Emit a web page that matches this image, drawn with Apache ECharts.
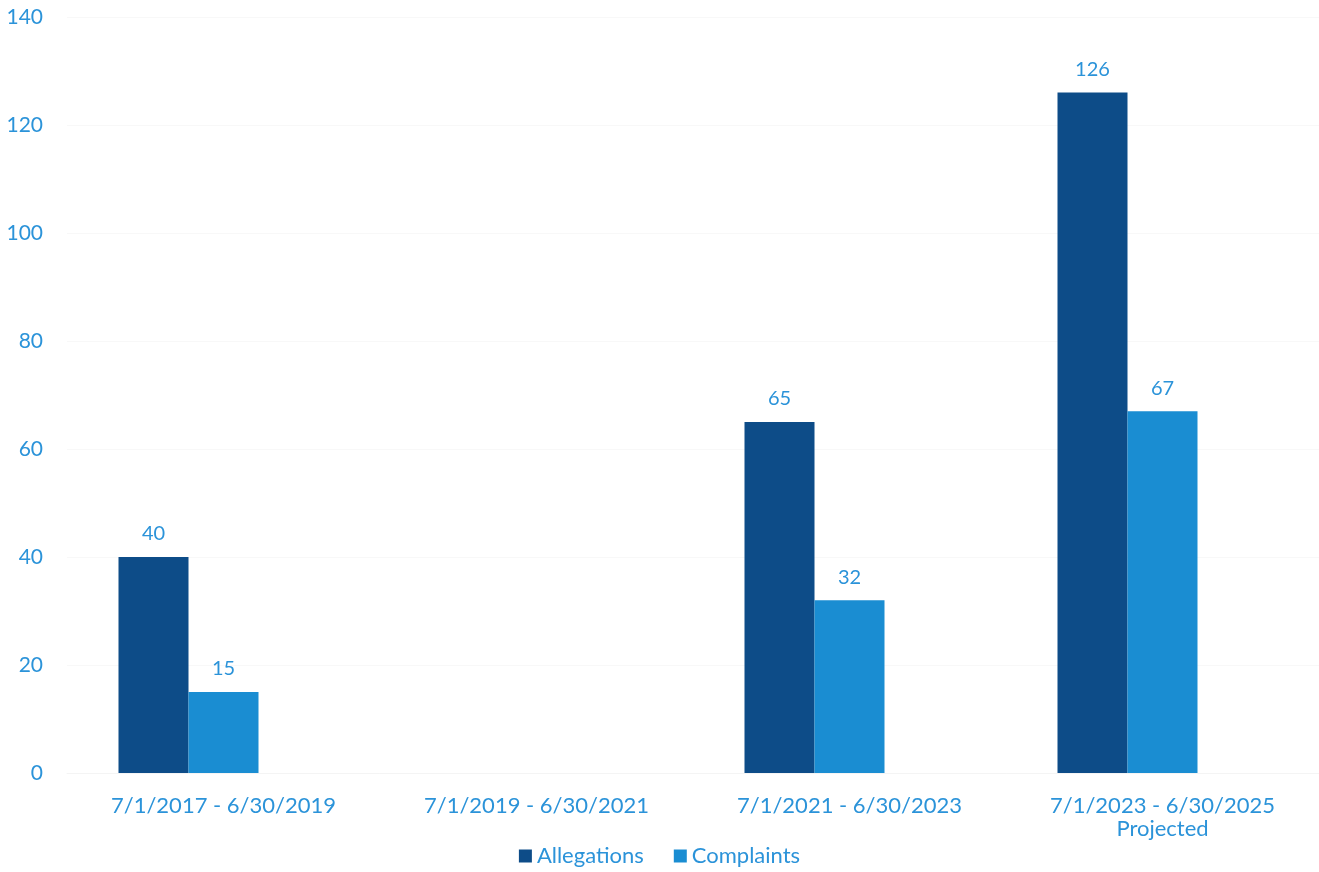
<!DOCTYPE html>
<html>
<head>
<meta charset="utf-8">
<script src="https://cdn.jsdelivr.net/npm/echarts@6/dist/echarts.min.js"></script>
<style>
  html, body { margin: 0; padding: 0; background: #fff; }
  #chart { width: 1319px; height: 872px; }
</style>
</head>
<body>
<div id="chart"></div>
<script>
var categories = ['7/1/2017 - 6/30/2019', '7/1/2019 - 6/30/2021', '7/1/2021 - 6/30/2023', '7/1/2023 - 6/30/2025\nProjected'];
var allegations = [40, null, 65, 126];
var complaints = [15, null, 32, 67];
// third (empty) slot in each group, keeps the pair left of the label like the original
var emptySlot = [null, null, null, null];

var textBlue = '#2b93d9';
var chart = echarts.init(document.getElementById('chart'));

var labelStyle = {
    show: true,
    position: 'top',
    distance: 13,
    color: textBlue,
    fontSize: 20,
    fontFamily: 'Lato'
};

chart.setOption({
    animation: false,
    textStyle: { fontFamily: 'Lato' },
    grid: {
        left: 67,
        right: -3,
        top: 17,
        bottom: 99
    },
    legend: {
        data: ['Allegations', 'Complaints'],
        bottom: 0,
        left: 'center',
        itemWidth: 13,
        itemHeight: 13,
        itemGap: 30,
        icon: 'rect',
        textStyle: { color: textBlue, fontSize: 22, fontFamily: 'Lato' }
    },
    xAxis: {
        type: 'category',
        data: categories,
        axisLine: { lineStyle: { color: '#f4f4f4' } },
        axisTick: { show: false },
        axisLabel: {
            color: textBlue,
            fontSize: 22,
            lineHeight: 23,
            margin: 21,
            interval: 0
        }
    },
    yAxis: {
        type: 'value',
        min: 0,
        max: 140,
        interval: 20,
        axisLine: { show: false },
        axisTick: { show: false },
        splitLine: { lineStyle: { color: '#f8f8f8' } },
        axisLabel: { color: textBlue, fontSize: 21, margin: 24 }
    },
    series: [
        {
            name: 'Allegations',
            type: 'bar',
            data: allegations,
            barWidth: 70,
            barGap: '0%',
            itemStyle: { color: '#0d4c88' },
            label: labelStyle
        },
        {
            name: 'Complaints',
            type: 'bar',
            data: complaints,
            barWidth: 70,
            barGap: '0%',
            itemStyle: { color: '#1a8dd2' },
            label: labelStyle
        },
        {
            name: 'spacer',
            type: 'bar',
            data: emptySlot,
            barWidth: 70,
            barGap: '0%'
        }
    ]
});
</script>
</body>
</html>
